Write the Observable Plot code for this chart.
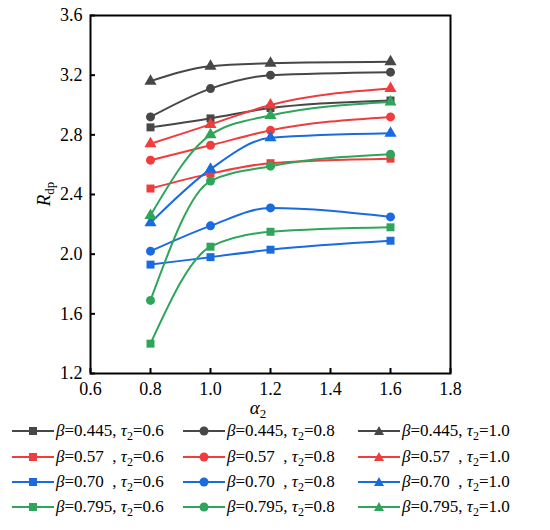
<!DOCTYPE html>
<html><head><meta charset="utf-8">
<script src="https://cdn.jsdelivr.net/npm/d3@7"></script>
<script src="https://cdn.jsdelivr.net/npm/@observablehq/plot@0.6"></script>
<style>
body{margin:0;background:#fff;width:550px;font-family:"Liberation Serif","Times New Roman",serif;color:#000;}
#legend{position:relative;width:550px;height:105px;}
.item{position:absolute;display:flex;align-items:center;font-size:17px;white-space:pre;line-height:16px;height:20px;}
.item svg{display:block;margin-right:2px;}
.sub{font-size:12px;position:relative;top:4px;}
</style></head>
<body><div id="chart"></div><div id="legend"></div>
<script>
// x values (alpha_2)
const alpha2 = [0.8, 1.0, 1.2, 1.6];
const xTicks = [0.6, 0.8, 1.0, 1.2, 1.4, 1.6, 1.8];
const yTicks = [1.2, 1.6, 2.0, 2.4, 2.8, 3.2, 3.6];
const betaLabels = ["0.445", "0.57  ", "0.70  ", "0.795"];
const tauLabels = ["0.6", "0.8", "1.0"];
const colors = ["#474747", "#f03c3c", "#1a6ae0", "#2ea55a"];
const symbols = ["square", "circle", "triangle"];

// R_dp values, one array per (beta, tau2)
const b0445_t06 = [2.85, 2.91, 2.98, 3.03];
const b0445_t08 = [2.92, 3.11, 3.20, 3.22];
const b0445_t10 = [3.16, 3.26, 3.28, 3.29];
const b057_t06 = [2.44, 2.54, 2.61, 2.64];
const b057_t08 = [2.63, 2.73, 2.83, 2.92];
const b057_t10 = [2.74, 2.87, 3.00, 3.11];
const b070_t06 = [1.93, 1.98, 2.03, 2.09];
const b070_t08 = [2.02, 2.19, 2.31, 2.25];
const b070_t10 = [2.21, 2.57, 2.78, 2.81];
const b0795_t06 = [1.40, 2.05, 2.15, 2.18];
const b0795_t08 = [1.69, 2.49, 2.59, 2.67];
const b0795_t10 = [2.26, 2.80, 2.93, 3.02];

const series = [
  [b0445_t06, b0445_t08, b0445_t10],
  [b057_t06, b057_t08, b057_t10],
  [b070_t06, b070_t08, b070_t10],
  [b0795_t06, b0795_t08, b0795_t10]
];

const rows = [];
series.forEach((bs, i) => bs.forEach((vals, j) => vals.forEach((v, k) => {
  rows.push({key: i + "-" + j, a: alpha2[k], v, color: colors[i], sym: symbols[j]});
})));

const chart = Plot.plot({
  width: 550, height: 425,
  marginLeft: 90, marginRight: 100, marginTop: 15, marginBottom: 52,
  style: {fontFamily: "'Liberation Serif', 'Times New Roman', serif", fontSize: "18px", color: "#000", background: "#fff"},
  x: {domain: [0.6, 1.8]},
  y: {domain: [1.2, 3.6]},
  color: {type: "identity"},
  symbol: {type: "identity"},
  marks: [
    Plot.axisX({ticks: xTicks, tickFormat: d => d.toFixed(1), tickSize: -5, tickPadding: 14, strokeWidth: 2, label: null, fontSize: 18}),
    Plot.axisY({ticks: yTicks, tickFormat: d => d.toFixed(1), tickSize: -5, tickPadding: 13, strokeWidth: 2, label: null, fontSize: 18}),
    Plot.line(rows, {x: "a", y: "v", z: "key", stroke: "color", curve: "monotone-x", strokeWidth: 2}),
    Plot.dot(rows, {x: "a", y: "v", fill: "color", symbol: "sym", r: 4.5, stroke: null}),
    Plot.frame({stroke: "#000", strokeWidth: 2})
  ]
});
document.getElementById("chart").appendChild(chart);

const svg = d3.select(chart);
const yl = svg.append("text").attr("transform", "translate(50,194) rotate(-90)")
  .attr("text-anchor", "middle").attr("font-size", 19).attr("font-family", "'Liberation Serif', serif").attr("fill", "#000");
yl.append("tspan").attr("font-style", "italic").text("R");
yl.append("tspan").attr("font-size", 13).attr("dy", 4).text("dp");
const xl = svg.append("text").attr("x", 258).attr("y", 414)
  .attr("text-anchor", "middle").attr("font-size", 19).attr("font-family", "'Liberation Serif', serif").attr("fill", "#000");
xl.append("tspan").attr("font-style", "italic").text("α");
xl.append("tspan").attr("font-size", 13).attr("dy", 4).text("2");

// legend
const legend = document.getElementById("legend");
const colX = [12, 183, 358];
const rowY = [6, 32, 57, 82];
const symPath = {
  square: '<rect x="17" y="2" width="8" height="8"/>',
  circle: '<circle cx="21" cy="6" r="4.5"/>',
  triangle: '<path d="M21,1 L26,10 L16,10 Z"/>'
};
betaLabels.forEach((b, i) => tauLabels.forEach((t, j) => {
  const d = document.createElement("div");
  d.className = "item";
  d.style.left = colX[j] + "px";
  d.style.top = (rowY[i] - 10) + "px";
  d.innerHTML = `<svg width="42" height="12"><line x1="0" x2="42" y1="6" y2="6" stroke="${colors[i]}" stroke-width="2"/><g fill="${colors[i]}">${symPath[symbols[j]]}</g></svg>` +
    `<span><i>β</i>=${b}, <i>τ</i><span class="sub">2</span>=${t}</span>`;
  legend.appendChild(d);
}));
</script>
</body></html>
